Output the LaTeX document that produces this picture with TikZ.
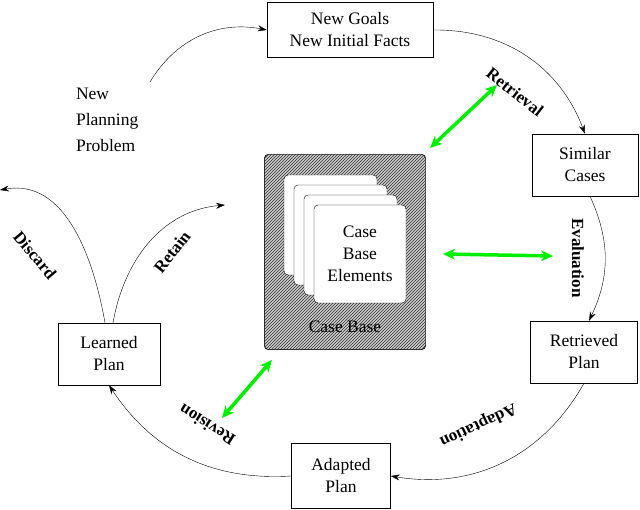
\documentclass[tikz,border=0pt]{standalone}
\usepackage{fontspec}
\setmainfont{Liberation Serif}
\usetikzlibrary{patterns,arrows.meta}
\begin{document}
\begin{tikzpicture}[x=1pt,y=-1pt,
 box/.style={draw,fill=white,align=center,minimum width=#1,minimum height=62pt,inner sep=1pt},
 cyc/.style={-{Stealth[length=9pt,width=6pt]},thin},
 lab/.style={font=\bfseries\fontsize{17}{20}\selectfont},
 grn/.style={{Stealth[length=12pt,width=11pt]}-{Stealth[length=12pt,width=11pt]},line width=3.5pt,green!90!black!60!green},
 page/.style={draw,fill=white,rounded corners=4pt}]
\useasboundingbox (0,0) rectangle (640,510);
\fontsize{17.5}{22}\selectfont
\node[box=166pt,minimum height=55pt] (goals) at (350,30) {New Goals\\New Initial Facts};
\node[box=106pt] (sim) at (585,165) {Similar\\Cases};
\node[box=107pt] (ret) at (584,352) {Retrieved\\Plan};
\node[box=99pt,minimum height=65pt] (ada) at (341,476) {Adapted\\Plan};
\node[box=102pt] (lrn) at (109,354) {Learned\\Plan};
\node[align=left,anchor=west] (npp) at (70,120) {New\\[4pt]Planning\\[4pt]Problem};
% case base
\node[draw,rounded corners=4pt,minimum width=161pt,minimum height=195pt,fill=gray!40] (cb) at (345,252) {};
\draw[rounded corners=4pt,pattern=north east lines,pattern color=black!80] (cb.south west) rectangle (cb.north east);
\node (cbl) at (345,327) {Case Base};
\foreach \i in {0,1,2}{\draw[page] (284+10*\i,175+10*\i) rectangle (377+10*\i,275+10*\i);}
\node[page,minimum width=92pt,minimum height=98pt,align=center] (cbe) at (360,254) {Case\\Base\\Elements};
% cycle arrows
\coordinate (s0) at (150,82);
\draw[cyc] (s0) to[bend left=35] (goals.west);
\draw[cyc] (goals.east) to[bend left=35] (sim.north);
\draw[cyc] ([xshift=5pt]sim.south) to[bend left=25] ([xshift=5pt]ret.north);
\draw[cyc] (ret.south) to[bend left=35] (ada.east);
\draw[cyc] (ada.west) to[bend left=30] (lrn.south);
\coordinate (d1) at (0,190);
\coordinate (r1) at (225,205);
\draw[cyc] ([xshift=-4pt]lrn.north) to[out=100,in=10] (d1);
\draw[cyc] ([xshift=4pt]lrn.north) to[out=80,in=185] (r1);
% labels
\node[lab,rotate=-38] (l1) at (515,92) {Retrieval};
\node[lab,rotate=-90] (l2) at (578,258) {Evaluation};
\node[lab,rotate=205] (l3) at (478,425) {Adaptation};
\node[lab,rotate=148] (l4) at (207,425) {Revision};
\node[lab,rotate=-50] (l5) at (35,255) {Discard};
\node[lab,rotate=52] (l6) at (172,252) {Retain};
% green
\coordinate (g1a) at (430,148); \coordinate (g1b) at (497,85);
\coordinate (g2a) at (443,254); \coordinate (g2b) at (553,256);
\coordinate (g3a) at (222,418); \coordinate (g3b) at (272,360);
\draw[grn] (g1a) -- (g1b);
\draw[grn] (g2a) -- (g2b);
\draw[grn] (g3a) -- (g3b);
\end{tikzpicture}
\end{document}
